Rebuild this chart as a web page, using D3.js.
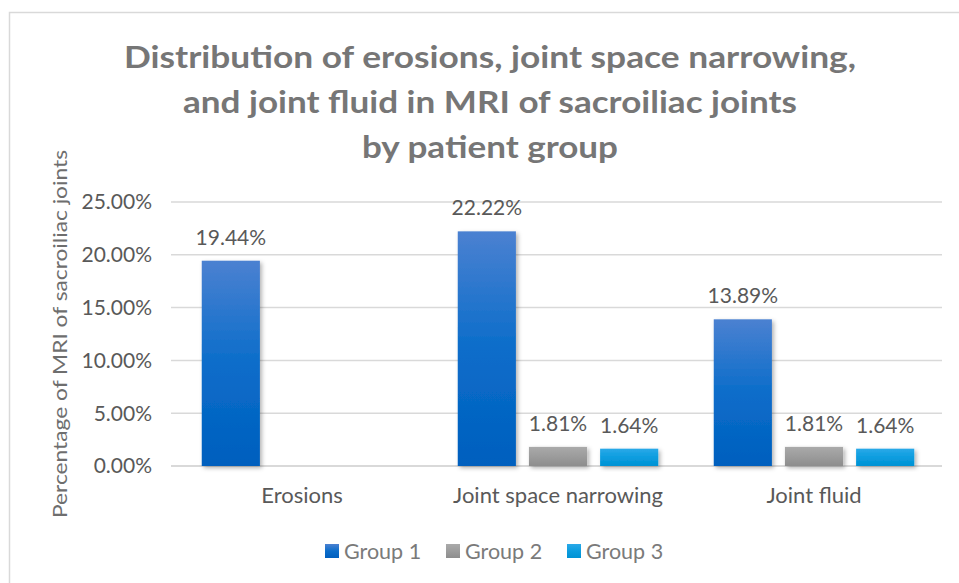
<!DOCTYPE html>
<html>
<head>
<meta charset="utf-8">
<script src="https://cdn.jsdelivr.net/npm/d3@7"></script>
<style>
  body { margin: 0; background: #fff; }
  text { font-family: Lato, 'Open Sans', sans-serif; }
</style>
</head>
<body>
<div id="chart"></div>
<script>
// data
const categories = ['Erosions', 'Joint space narrowing', 'Joint fluid'];
const groups = ['Group 1', 'Group 2', 'Group 3'];
const group1 = [0.1944, 0.2222, 0.1389];
const group2 = [null, 0.0181, 0.0181];
const group3 = [null, 0.0164, 0.0164];
const yTicks = [0, 0.05, 0.10, 0.15, 0.20, 0.25];
const titleLines = [
  'Distribution of erosions, joint space narrowing,',
  'and joint fluid in MRI of sacroiliac joints',
  'by patient group'
];

const series = [group1, group2, group3];
const gradients = [
  ['#4b81d1', '#0b6dca', '#005fbe'],
  ['#aaaaaa', '#9c9c9c', '#8d8d8d'],
  ['#2ba9e8', '#0b9ddf', '#0092d4']
];

const W = 959, H = 583;
const margin = { top: 202, right: 17, bottom: 117, left: 174 };
const width = W - margin.left - margin.right;
const height = H - margin.top - margin.bottom;

const svg = d3.select('#chart')
  .append('svg')
  .attr('width', W)
  .attr('height', H);

const defs = svg.append('defs');
gradients.forEach((g, i) => {
  const lg = defs.append('linearGradient')
    .attr('id', 'grad' + i)
    .attr('x1', 0).attr('y1', 0).attr('x2', 0).attr('y2', 1);
  lg.append('stop').attr('offset', '0%').attr('stop-color', g[0]);
  lg.append('stop').attr('offset', '50%').attr('stop-color', g[1]);
  lg.append('stop').attr('offset', '100%').attr('stop-color', g[2]);
});
const shadow = defs.append('filter').attr('id', 'shadow')
  .attr('x', '-20%').attr('y', '-20%').attr('width', '150%').attr('height', '150%');
shadow.append('feDropShadow')
  .attr('dx', 2).attr('dy', 2).attr('stdDeviation', 2)
  .attr('flood-color', '#000').attr('flood-opacity', 0.3);

// chart border (top and left edges visible)
svg.append('path')
  .attr('d', 'M9.5,' + H + ' V12.5 H' + W)
  .attr('fill', 'none')
  .attr('stroke', '#d9d9d9')
  .attr('stroke-width', 1.5);

// title
svg.append('g')
  .selectAll('text')
  .data(titleLines)
  .enter()
  .append('text')
  .attr('x', 490)
  .attr('y', (d, i) => 68 + i * 45)
  .attr('text-anchor', 'middle')
  .attr('font-size', 31)
  .attr('font-weight', 'bold')
  .attr('fill', '#767676')
  .attr('textLength', (d, i) => [732, 614, 256][i])
  .attr('lengthAdjust', 'spacingAndGlyphs')
  .text(d => d);

const g = svg.append('g')
  .attr('transform', 'translate(' + margin.left + ',' + margin.top + ')');

const x0 = d3.scaleBand()
  .domain(categories)
  .range([0, width]);

const x1 = d3.scaleBand()
  .domain(groups)
  .range([0, x0.bandwidth()])
  .paddingInner(13 / 71)
  .paddingOuter(0.39);

const y = d3.scaleLinear()
  .domain([0, 0.25])
  .range([height, 0]);

// gridlines
g.append('g')
  .selectAll('line')
  .data(yTicks)
  .enter()
  .append('line')
  .attr('x1', -3)
  .attr('x2', width)
  .attr('y1', d => y(d))
  .attr('y2', d => y(d))
  .attr('stroke', '#d9d9d9')
  .attr('stroke-width', d => d === 0 ? 2 : 1.5);

// y tick labels
g.append('g')
  .selectAll('text')
  .data(yTicks)
  .enter()
  .append('text')
  .attr('x', 152 - margin.left)
  .attr('y', d => y(d))
  .attr('dy', '0.35em')
  .attr('text-anchor', 'end')
  .attr('font-size', 21)
  .attr('fill', '#595959')
  .text(d => d3.format('.2%')(d));

// y axis title
svg.append('text')
  .attr('transform', 'translate(67,334) rotate(-90)')
  .attr('text-anchor', 'middle')
  .attr('font-size', 20)
  .attr('fill', '#6e6e6e')
  .attr('textLength', 368)
  .attr('lengthAdjust', 'spacingAndGlyphs')
  .text('Percentage of MRI of sacroiliac joints');

// bars
const rows = [];
categories.forEach((c, ci) => {
  series.forEach((s, si) => {
    if (s[ci] != null) rows.push({ cat: c, group: groups[si], gi: si, value: s[ci] });
  });
});

g.append('g')
  .selectAll('rect')
  .data(rows)
  .enter()
  .append('rect')
  .attr('x', d => x0(d.cat) + x1(d.group))
  .attr('y', d => y(d.value))
  .attr('width', x1.bandwidth())
  .attr('height', d => height - y(d.value))
  .attr('fill', d => 'url(#grad' + d.gi + ')')
  .attr('filter', 'url(#shadow)');

// data labels
g.append('g')
  .selectAll('text')
  .data(rows)
  .enter()
  .append('text')
  .attr('x', d => x0(d.cat) + x1(d.group) + x1.bandwidth() / 2)
  .attr('y', d => y(d.value) - 16)
  .attr('text-anchor', 'middle')
  .attr('font-size', 21)
  .attr('fill', '#595959')
  .text(d => d3.format('.2%')(d.value));

// category labels
g.append('g')
  .selectAll('text')
  .data(categories)
  .enter()
  .append('text')
  .attr('x', d => x0(d) + x0.bandwidth() / 2)
  .attr('y', height + 37)
  .attr('text-anchor', 'middle')
  .attr('font-size', 22)
  .attr('fill', '#595959')
  .text(d => d);

// legend
const legendX = [325, 446, 567];
const legend = svg.append('g')
  .selectAll('g')
  .data(groups)
  .enter()
  .append('g')
  .attr('transform', (d, i) => 'translate(' + legendX[i] + ',544)');
legend.append('rect')
  .attr('width', 14)
  .attr('height', 14)
  .attr('fill', (d, i) => 'url(#grad' + i + ')');
legend.append('text')
  .attr('x', 19)
  .attr('y', 7)
  .attr('dy', '0.35em')
  .attr('font-size', 21.5)
  .attr('fill', '#7a7a7a')
  .text(d => d);
</script>
</body>
</html>
